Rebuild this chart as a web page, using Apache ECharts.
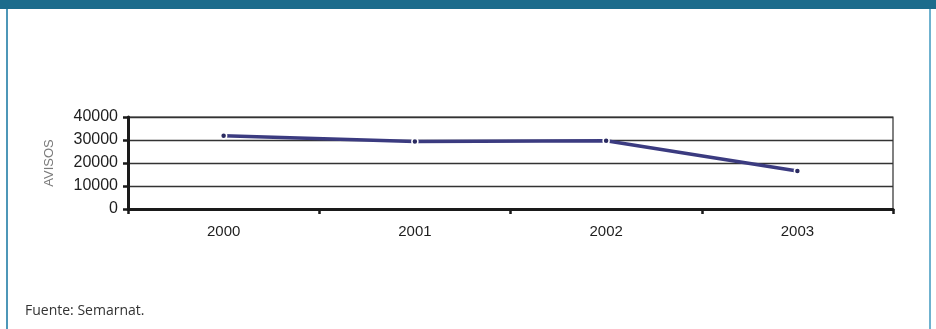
<!DOCTYPE html>
<html>
<head>
<meta charset="utf-8">
<script src="https://cdn.jsdelivr.net/npm/echarts@6/dist/echarts.min.js"></script>
<style>
  html, body { margin: 0; padding: 0; background: #ffffff; }
  #chart { width: 936px; height: 329px; }
</style>
</head>
<body>
<div id="chart"></div>
<script>
// Avisos por año (fuente: Semarnat)
const years = ['2000', '2001', '2002', '2003'];
const avisos = [31800, 29300, 29700, 16500];
const yTicks = [0, 10000, 20000, 30000, 40000];

const chart = echarts.init(document.getElementById('chart'), null, { renderer: 'canvas' });

chart.setOption({
  backgroundColor: '#ffffff',
  animation: false,
  graphic: [
    // top header band
    { type: 'rect', left: 0, top: 0, shape: { width: 936, height: 9 }, style: { fill: '#1c6c8c' }, silent: true },
    // side frame lines
    { type: 'rect', left: 6, top: 9, shape: { width: 2, height: 320 }, style: { fill: '#4d97b8' }, silent: true },
    { type: 'rect', left: 929, top: 9, shape: { width: 2, height: 320 }, style: { fill: '#6fb2cf' }, silent: true },
    {
      type: 'text', left: 25, top: 304,
      style: { text: 'Fuente: Semarnat.', fill: '#333333', font: '14px "Open Sans", sans-serif' },
      silent: true
    }
  ],
  grid: {
    left: 128, right: 43, top: 117, bottom: 120,
    show: true, borderColor: '#2e2e2e', borderWidth: 1.2, backgroundColor: 'transparent'
  },
  xAxis: {
    type: 'category',
    data: years,
    boundaryGap: true,
    axisLine: { lineStyle: { color: '#1a1a1a', width: 3 } },
    axisTick: { show: true, inside: false, length: 5, lineStyle: { color: '#1a1a1a', width: 2.5 } },
    axisLabel: { color: '#1e1e1e', fontSize: 15, fontFamily: '"Liberation Sans", Arial, sans-serif', margin: 15 },
    splitLine: { show: false }
  },
  yAxis: {
    type: 'value',
    min: yTicks[0],
    max: yTicks[yTicks.length - 1],
    interval: yTicks[1] - yTicks[0],
    name: 'AVISOS',
    nameLocation: 'middle',
    nameGap: 72,
    nameRotate: 90,
    nameTextStyle: { color: '#7a7a7a', fontSize: 13, fontFamily: '"Liberation Sans", Arial, sans-serif' },
    axisLine: { show: true, lineStyle: { color: '#1a1a1a', width: 3 } },
    axisTick: { show: true, inside: false, length: 5, lineStyle: { color: '#1a1a1a', width: 2.5 } },
    axisLabel: {
      color: '#1e1e1e', fontSize: 16, fontFamily: '"Liberation Sans", Arial, sans-serif', margin: 10,
      formatter: (v) => String(v)
    },
    splitLine: { show: true, lineStyle: { color: '#333333', width: 1.4 } }
  },
  series: [{
    type: 'line',
    data: avisos,
    symbol: 'circle',
    symbolSize: 6,
    showSymbol: true,
    lineStyle: { color: '#3b3b80', width: 3.5 },
    itemStyle: { color: '#2a2a60', borderColor: '#ffffff', borderWidth: 1.5 },
    z: 5
  }]
});
</script>
</body>
</html>
